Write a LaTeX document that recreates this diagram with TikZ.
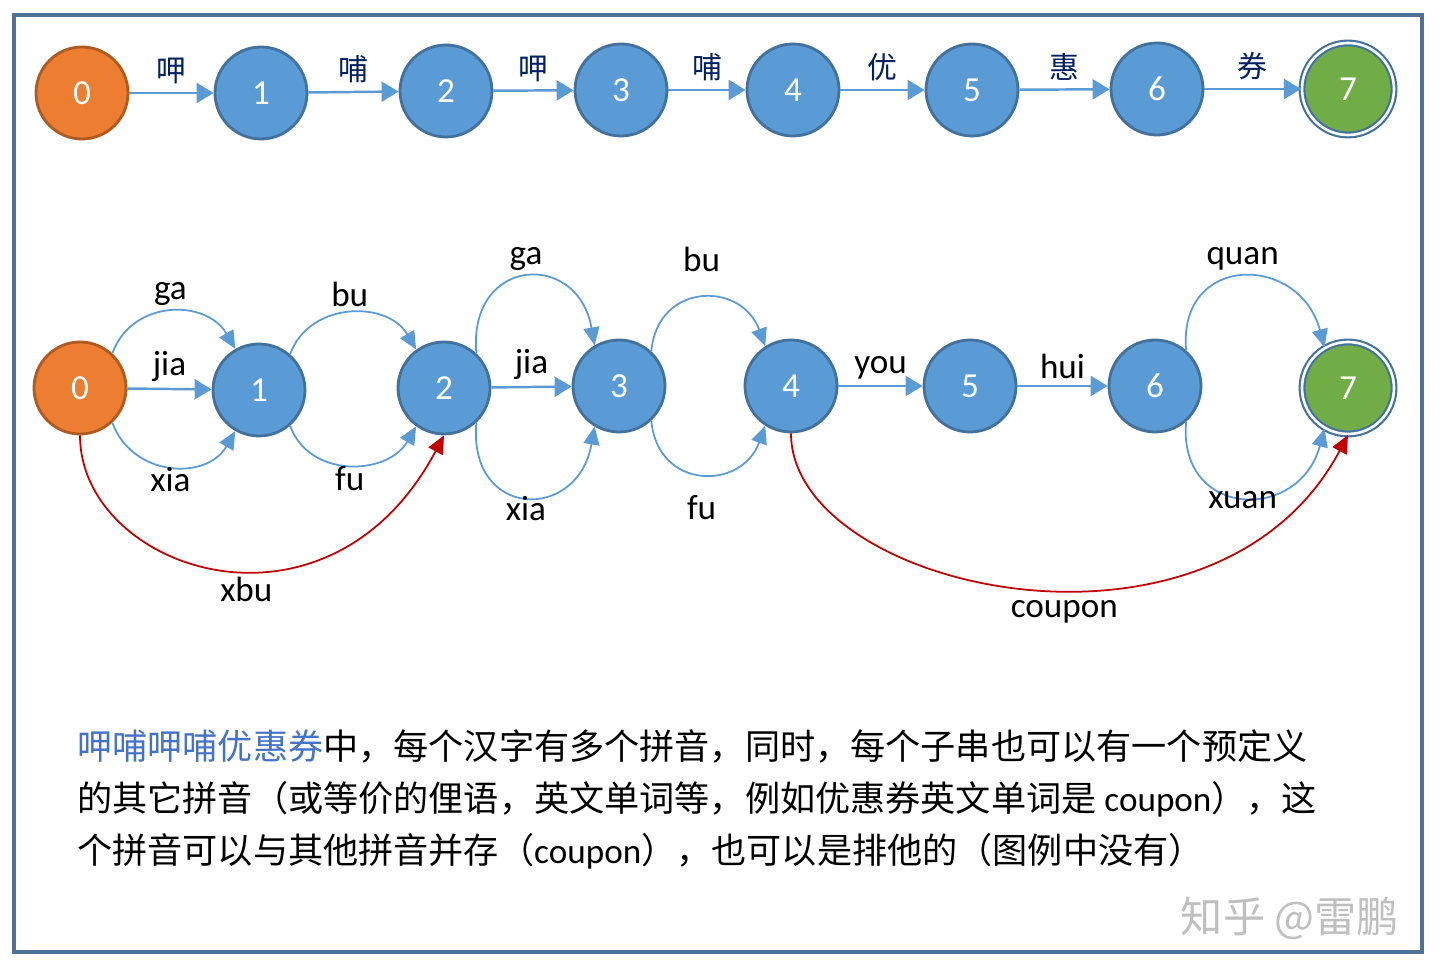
\documentclass[tikz,border=0pt]{standalone}
\usepackage{fontspec}
\setmainfont{Carlito}
\newfontfamily\cjk{Noto Sans CJK SC}
\usetikzlibrary{arrows.meta}
\definecolor{fsmorange}{RGB}{237,125,49}
\definecolor{fsmorangedk}{RGB}{174,90,33}
\definecolor{fsmblue}{RGB}{91,155,213}
\definecolor{fsmbluedk}{RGB}{65,113,156}
\definecolor{fsmgreen}{RGB}{112,173,71}
\definecolor{fsmred}{RGB}{192,0,0}
\definecolor{fsmnavy}{RGB}{0,32,96}
\definecolor{fsmframe}{RGB}{79,113,150}
\definecolor{fsmtext}{RGB}{68,114,196}

\begin{document}
\begin{tikzpicture}[
  every node/.style={font=\fontsize{20}{24}\selectfont,text=black},
  statenode/.style={circle,draw=fsmbluedk,line width=1.6pt,fill=fsmblue,
                    minimum size=1.84cm,inner sep=0pt,text=white},
  startnode/.style={statenode,fill=fsmorange,draw=fsmorangedk},
  finalnode/.style={statenode,fill=fsmgreen,double=white,double distance=1.5pt,
                    line width=1.2pt},
  arr/.style={-{Triangle[length=3.4mm,width=4mm]},line width=1.4pt,fsmblue},
  arcblue/.style={-{Triangle[length=3.6mm,width=3.2mm]},line width=1pt,fsmblue},
  arcred/.style={-{Triangle[length=3.6mm,width=3.2mm]},line width=1pt,fsmred},
  hz/.style={font=\cjk\fontsize{17}{20}\selectfont,text=fsmnavy},
]
  \fill[white] (0,0) rectangle (28.8,19.6);
  \useasboundingbox (0,0) rectangle (28.8,19.6);

  % Frame
  \draw[fsmframe,line width=1.8pt] (0.28,0.56) rectangle (28.44,19.3);

  % Top chain: one character per edge
  \node[startnode] (t0) at (1.64,  17.74) {0};
  \node[statenode] (t1) at (5.22,  17.74) {1};
  \node[statenode] (t2) at (8.92,  17.78) {2};
  \node[statenode] (t3) at (12.42, 17.80) {3};
  \node[statenode] (t4) at (15.86, 17.80) {4};
  \node[statenode] (t5) at (19.44, 17.80) {5};
  \node[statenode] (t6) at (23.14, 17.82) {6};
  \node[finalnode] (t7) at (26.96, 17.82) {7};

  \draw[arr] (t0) -- (t1) node[midway,above=1pt,hz] (h1) {呷};
  \draw[arr] (t1) -- (t2) node[midway,above=1pt,hz] (h2) {哺};
  \draw[arr] (t2) -- (t3) node[midway,above=1pt,hz] (h3) {呷};
  \draw[arr] (t3) -- (t4) node[midway,above=1pt,hz] (h4) {哺};
  \draw[arr] (t4) -- (t5) node[midway,above=1pt,hz] (h5) {优};
  \draw[arr] (t5) -- (t6) node[midway,above=1pt,hz] (h6) {惠};
  \draw[arr] (t6) -- (t7) node[midway,above=1pt,hz] (h7) {券};

  % Pinyin lattice
  \node[startnode] (b0) at (1.60,  11.84) {0};
  \node[statenode] (b1) at (5.18,  11.80) {1};
  \node[statenode] (b2) at (8.88,  11.84) {2};
  \node[statenode] (b3) at (12.38, 11.88) {3};
  \node[statenode] (b4) at (15.82, 11.88) {4};
  \node[statenode] (b5) at (19.40, 11.88) {5};
  \node[statenode] (b6) at (23.10, 11.88) {6};
  \node[finalnode] (b7) at (26.96, 11.84) {7};

  % 0 -> 1
  \draw[arr] (b0) -- (b1) node[midway,above] (ljia1) {jia};
  \draw[arcblue] (b0.47) to[out=70,in=120,looseness=1.2]
    node[midway,above] (lga1) {ga} (b1.120);
  \draw[arcblue] (b0.-47) to[out=-70,in=-120,looseness=1.2]
    node[midway,below=-1mm] (lxia1) {xia} (b1.-120);

  % 1 -> 2
  \draw[arcblue] (b1.49) to[out=70,in=120,looseness=1.15]
    node[midway,above] (lbu1) {bu} (b2.126);
  \draw[arcblue] (b1.-49) to[out=-70,in=-120,looseness=1.15]
    node[midway,below=-1mm] (lfu1) {fu} (b2.-126);

  % 2 -> 3
  \draw[arr] (b2) -- (b3) node[midway,above] (ljia2) {jia};
  \draw[arcblue] (b2.47) to[out=95,in=100,looseness=2.1]
    node[midway,above] (lga2) {ga} (b3.121);
  \draw[arcblue] (b2.-47) to[out=-95,in=-100,looseness=2.1]
    node[midway,below=-1.5mm] (lxia2) {xia} (b3.-121);

  % 3 -> 4
  \draw[arcblue] (b3.47) to[out=85,in=110,looseness=1.56]
    node[midway,above=4mm] (lbu2) {bu} (b4.123);
  \draw[arcblue] (b3.-47) to[out=-85,in=-110,looseness=1.56]
    node[midway,below=3mm] (lfu2) {fu} (b4.-123);

  % 4 -> 5 -> 6
  \draw[arr] (b4) -- (b5) node[midway,above] (lyou) {you};
  \draw[arr] (b5) -- (b6) node[midway,above] (lhui) {hui};

  % 6 -> 7
  \draw[arcblue] (b6.49) to[out=95,in=105,looseness=1.8]
    node[midway,above] (lquan) {quan} (b7.120);
  \draw[arcblue] (b6.-49) to[out=-95,in=-105,looseness=1.8]
    node[midway,below=-2.5mm] (lxuan) {xuan} (b7.-120);

  % Whole-word shortcuts
  \draw[arcred] (b0.south) to[out=-90,in=-118,out looseness=0.95,in looseness=1.75]
    node[pos=0.56,below] (lxbu) {xbu} (b2.south);
  \draw[arcred] (b4.south) to[out=-90,in=-118,out looseness=0.72,in looseness=1.3]
    node[pos=0.56,below=1mm] (lcoupon) {coupon} (b7.south);

  % Caption
  \node[anchor=west,align=left,inner sep=0pt,
        font=\cjk\fontsize{20}{29.6}\selectfont] (desc) at (1.54,3.62)
    {{\color{fsmtext}呷哺呷哺优惠券}中，每个汉字有多个拼音，同时，每个子串也可以有一个预定义\\
     的其它拼音（或等价的俚语，英文单词等，例如优惠券英文单词是 {\rmfamily coupon}），这\\
     个拼音可以与其他拼音并存（{\rmfamily coupon}），也可以是排他的（图例中没有）};

  % Watermark
  \node[font=\cjk\fontsize{24}{28}\selectfont,text=black!25] (mark) at (25.8,1.24)
    {知乎 @雷鹏};
\end{tikzpicture}
\end{document}
